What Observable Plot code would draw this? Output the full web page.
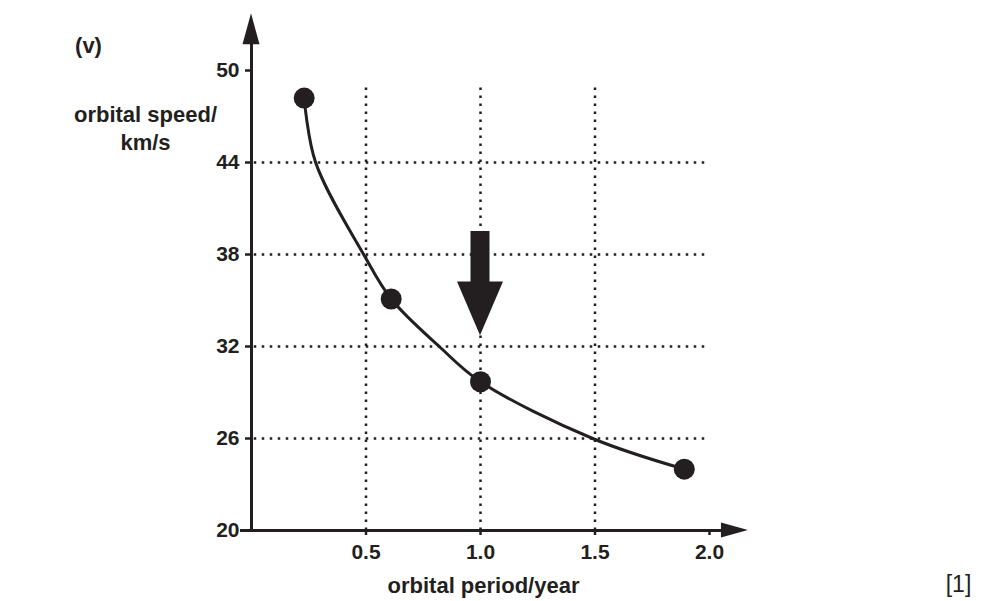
<!DOCTYPE html>
<html>
<head>
<meta charset="utf-8">
<script src="https://cdn.jsdelivr.net/npm/d3@7"></script>
<script src="https://cdn.jsdelivr.net/npm/@observablehq/plot@0.6"></script>
<style>
  html, body { margin: 0; padding: 0; background: #fff; }
  svg { display: block; }
</style>
</head>
<body>
<div id="chart"></div>
<script>
// Measured planets (orbital period in years, orbital speed in km/s)
const periods = [0.23, 0.61, 1.0, 1.89];
const speeds = [48.2, 35.1, 29.7, 24.0];

// Points
const curvePeriods = [0.23, 0.28, 0.49, 0.61, 0.82, 1.0, 1.49, 1.89];
const curveSpeeds  = [48.2, 44.0, 38.0, 35.1, 32.0, 29.7, 26.0, 24.0];

const xTicks = [0.5, 1.0, 1.5, 2.0];
const yTicks = [20, 26, 32, 38, 44, 50];
const xGrid = [0.5, 1.0, 1.5];
const yGrid = [26, 32, 38, 44];

// Down arrow annotation at period 1.0
const arrowX = 1.0;
const arrowTop = 39.5;
const arrowHeadBase = 36.2;
const arrowTip = 32.7;

// Axis extents
const xAxisEnd = 2.17;
const yAxisEnd = 53.7;

const ink = "#231f20";
const font = "'Liberation Sans', Arial, Helvetica, sans-serif";

const points = periods.map((p, i) => ({p, v: speeds[i]}));
const curve = curvePeriods.map((p, i) => ({p, v: curveSpeeds[i]}));

function arrows(index, scales) {
  const {x, y} = scales;
  const ns = "http://www.w3.org/2000/svg";
  const g = document.createElementNS(ns, "g");
  g.setAttribute("fill", ink);
  const add = (d) => {
    const p = document.createElementNS(ns, "path");
    p.setAttribute("d", d);
    g.appendChild(p);
  };
  // y-axis arrowhead
  const x0 = x(0), yb = y(20);
  const yt = y(yAxisEnd);
  add(`M${x0},${yt} L${x0 - 8.5},${yt + 31} L${x0 + 8.5},${yt + 31} Z`);
  // x-axis arrowhead
  const xt = x(xAxisEnd);
  add(`M${xt},${yb} L${xt - 27},${yb - 7.5} L${xt - 27},${yb + 7.5} Z`);
  // big down arrow
  const ax = x(arrowX);
  const t = y(arrowTop), hb = y(arrowHeadBase), tip = y(arrowTip);
  add(`M${ax - 9.5},${t} L${ax + 9.5},${t} L${ax + 9.5},${hb} L${ax + 23},${hb} L${ax},${tip} L${ax - 23},${hb} L${ax - 9.5},${hb} Z`);
  return g;
}

const chart = Plot.plot({
  width: 1008,
  height: 601,
  marginLeft: 251,
  marginRight: 299,
  marginTop: 70,
  marginBottom: 71,
  style: {fontFamily: font, color: ink, background: "#fff", overflow: "visible"},
  x: {domain: [0, 2], axis: null},
  y: {domain: [20, 50], axis: null},
  marks: [
    // dotted grid
    Plot.ruleX(xGrid, {y1: 20, y2: 49.2, stroke: ink, strokeWidth: 2.5, strokeDasharray: "2.5,5.5"}),
    Plot.ruleY(yGrid, {x1: 0.012, x2: 1.98, stroke: ink, strokeWidth: 2.5, strokeDasharray: "2.5,5.5"}),
    // axes lines
    Plot.ruleX([0], {y1: 20, y2: 52.5, stroke: ink, strokeWidth: 3}),
    Plot.ruleY([20], {x1: -0.048, x2: 2.06, stroke: ink, strokeWidth: 3}),
    Plot.axisY(yTicks, {
      anchor: "left", tickSize: 6, tickPadding: 6, strokeWidth: 2.5,
      fontSize: 21, fontWeight: "bold", label: null, tickFormat: d => String(d), fill: ink, stroke: ink
    }),
    Plot.axisX(xTicks, {
      anchor: "bottom", tickSize: 5, tickPadding: 9, strokeWidth: 2.5,
      fontSize: 21, fontWeight: "bold", label: null, tickFormat: d => d.toFixed(1), fill: ink, stroke: ink
    }),
    // curve
    Plot.line(curve, {x: "p", y: "v", curve: "catmull-rom", stroke: ink, strokeWidth: 3}),
    // points
    Plot.dot(points, {x: "p", y: "v", r: 10.5, fill: ink, stroke: "none"}),
    arrows,
    // labels
    Plot.text(["orbital speed/\nkm/s"], {
      frameAnchor: "top-left", dx: -106, dy: 57, textAnchor: "middle", lineAnchor: "middle",
      fontSize: 22, fontWeight: "bold", lineHeight: 1.27, fill: ink
    }),
    Plot.text(["(v)"], {
      frameAnchor: "top-left", dx: -163, dy: -25, textAnchor: "middle", lineAnchor: "middle",
      fontSize: 22, fontWeight: "bold", fill: ink
    }),
    Plot.text(["orbital period/year"], {
      frameAnchor: "bottom", dx: 3, dy: 55, textAnchor: "middle", lineAnchor: "middle",
      fontSize: 22, fontWeight: "bold", fill: ink
    }),
    Plot.text(["[1]"], {
      frameAnchor: "bottom-right", dx: 249, dy: 54, textAnchor: "middle", lineAnchor: "middle",
      fontSize: 23, fontWeight: "normal", fill: ink
    })
  ]
});

document.getElementById("chart").appendChild(chart);
</script>
</body>
</html>
